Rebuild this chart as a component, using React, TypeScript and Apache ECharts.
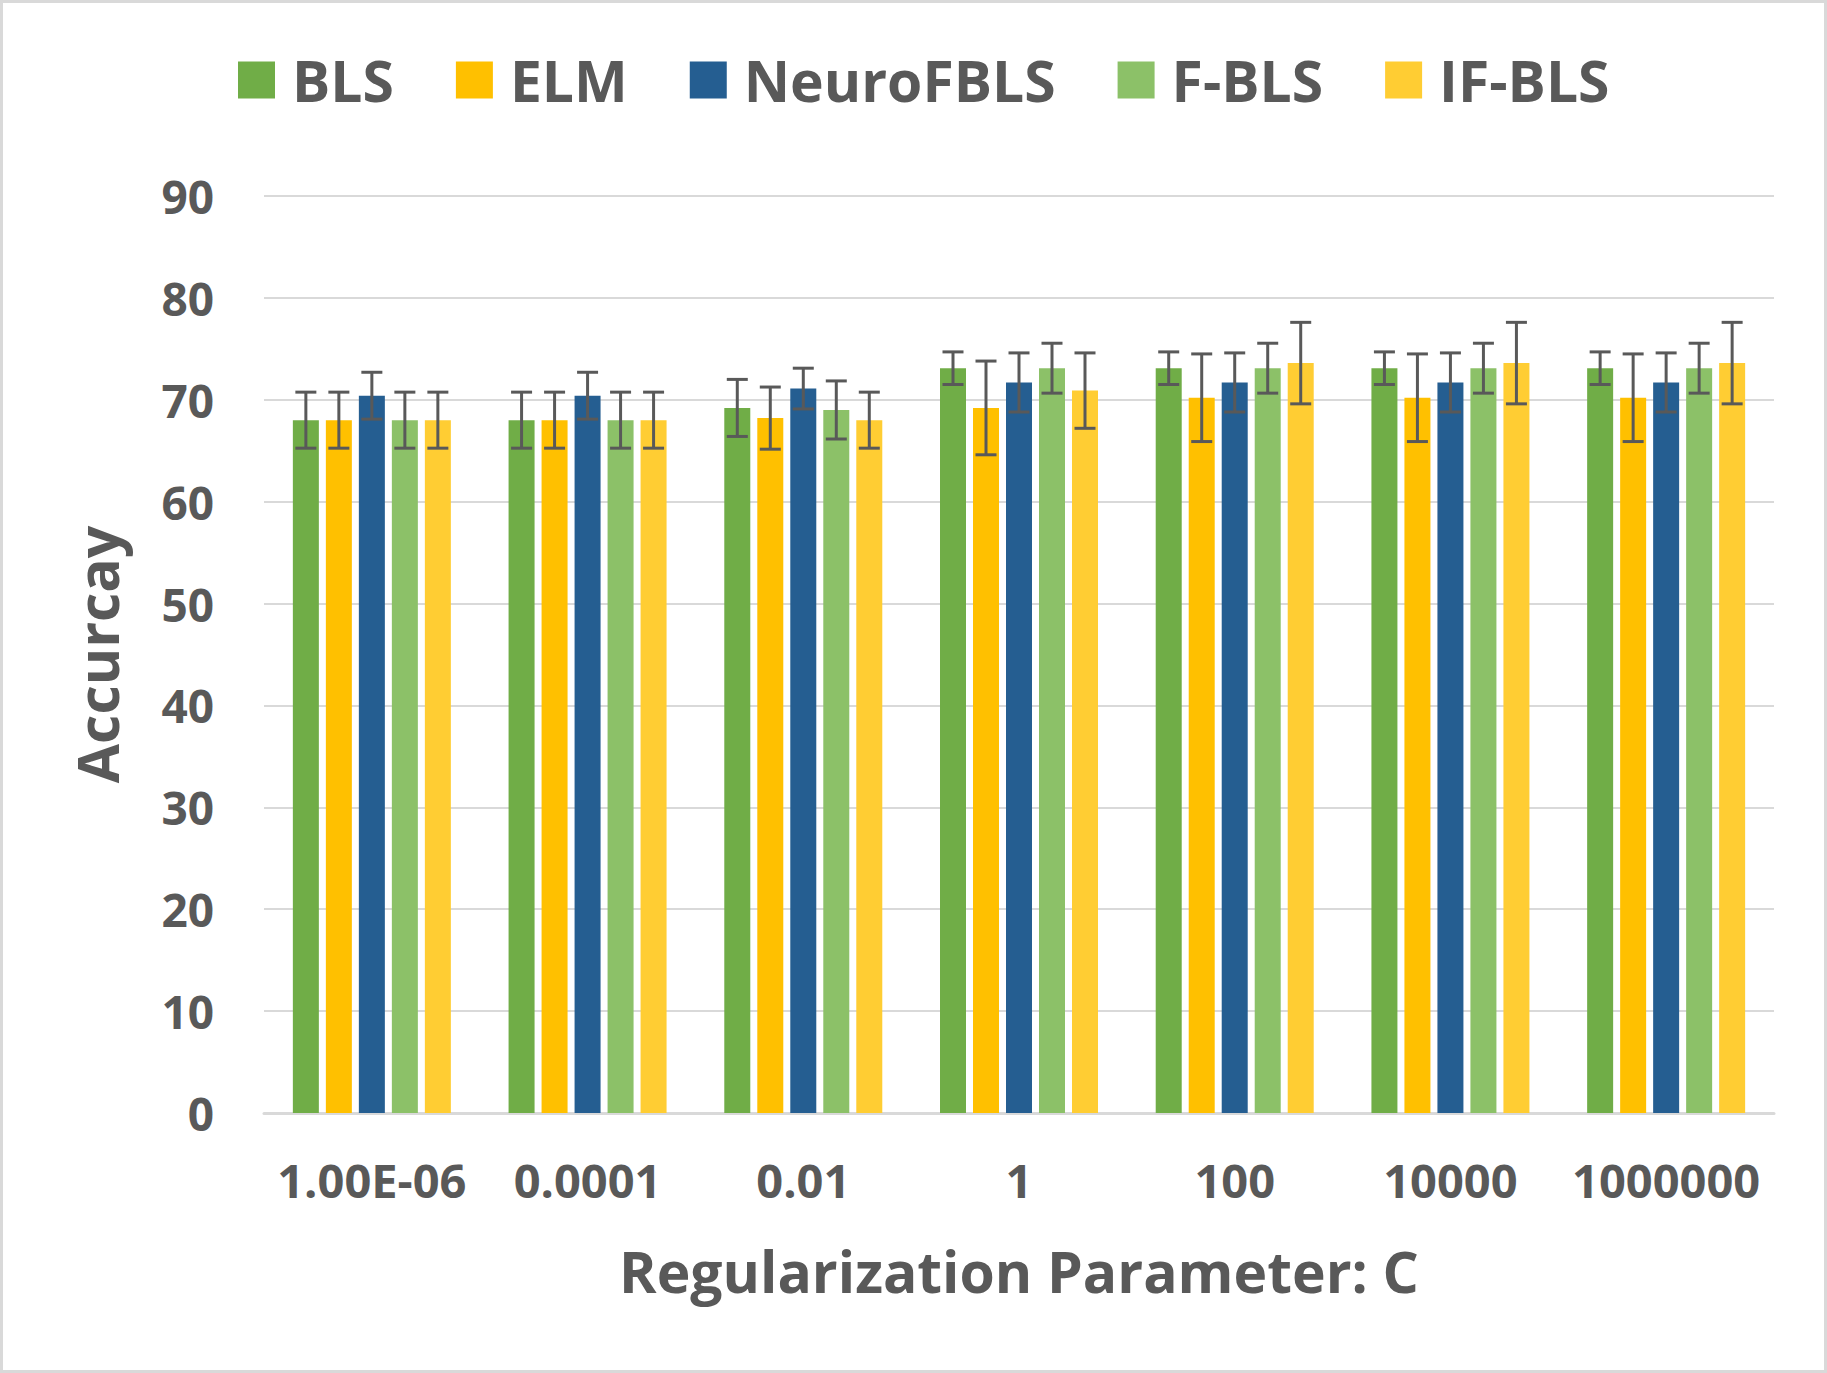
import React, { useEffect, useRef } from "react";
import * as echarts from "echarts";

const categories = ["1.00E-06", "0.0001", "0.01", "1", "100", "10000", "1000000"];
const seriesNames = ["BLS", "ELM", "NeuroFBLS", "F-BLS", "IF-BLS"];
const blsValues = [68.0, 68.0, 69.2, 73.1, 73.1, 73.1, 73.1];
const blsErrors = [2.75, 2.75, 2.8, 1.6, 1.6, 1.6, 1.6];
const elmValues = [68.0, 68.0, 68.2, 69.2, 70.2, 70.2, 70.2];
const elmErrors = [2.75, 2.75, 3.05, 4.6, 4.3, 4.3, 4.3];
const neuroValues = [70.4, 70.4, 71.1, 71.7, 71.7, 71.7, 71.7];
const neuroErrors = [2.3, 2.3, 2.0, 2.9, 2.9, 2.9, 2.9];
const fblsValues = [68.0, 68.0, 69.0, 73.1, 73.1, 73.1, 73.1];
const fblsErrors = [2.75, 2.75, 2.85, 2.45, 2.45, 2.45, 2.45];
const ifblsValues = [68.0, 68.0, 68.0, 70.9, 73.6, 73.6, 73.6];
const ifblsErrors = [2.75, 2.75, 2.75, 3.7, 4.0, 4.0, 4.0];
const yTicks = { min: 0, max: 90, interval: 10 };

const colors = ["#70AD47", "#FFC000", "#255E91", "#8CC168", "#FFCD33"];
const allValues = [blsValues, elmValues, neuroValues, fblsValues, ifblsValues];
const allErrors = [blsErrors, elmErrors, neuroErrors, fblsErrors, ifblsErrors];

const FONT = "'Open Sans', 'DejaVu Sans', sans-serif";
const TXT = "#595959";
const BAR_W = 26;
const BAR_GAP = 7;

export default function App() {
  const ref = useRef<HTMLDivElement>(null);
  useEffect(() => {
    if (!ref.current) return;
    const chart = echarts.init(ref.current, undefined, { renderer: "svg" });
    const barSeries = seriesNames.map((name, i) => ({
      type: "bar",
      name,
      data: allValues[i],
      barWidth: BAR_W,
      barGap: (BAR_GAP / BAR_W) * 100 + "%",
      itemStyle: { color: colors[i] },
      z: 2,
    }));
    const errSeries = seriesNames.map((name, i) => ({
      type: "custom",
      name,
      data: allValues[i].map((v, j) => [j, v, allErrors[i][j]]),
      z: 5,
      silent: true,
      encode: { x: 0, y: [1] },
      renderItem: (params: any, api: any) => {
        const x = api.value(0);
        const v = api.value(1);
        const e = api.value(2);
        const off = (i - 2) * (BAR_W + BAR_GAP);
        const top = api.coord([x, v + e]);
        const bot = api.coord([x, v - e]);
        const cx = top[0] + off;
        const hw = 10.5;
        const st = { stroke: "#595959", lineWidth: 3 };
        return {
          type: "group",
          children: [
            { type: "line", shape: { x1: cx, y1: top[1], x2: cx, y2: bot[1] }, style: st },
            { type: "line", shape: { x1: cx - hw, y1: top[1], x2: cx + hw, y2: top[1] }, style: st },
            { type: "line", shape: { x1: cx - hw, y1: bot[1], x2: cx + hw, y2: bot[1] }, style: st },
          ],
        };
      },
    }));
    chart.setOption({
      animation: false,
      backgroundColor: "#fff",
      graphic: [
        {
          type: "rect",
          shape: { x: 1.5, y: 1.5, width: 1824, height: 1370 },
          style: { fill: "none", stroke: "#D9D9D9", lineWidth: 3 },
          z: 100,
        },
      ],
      legend: {
        data: seriesNames,
        left: 233,
        top: 45,
        itemWidth: 37,
        itemHeight: 37,
        itemGap: 62,
        icon: "rect",
        textStyle: {
          fontFamily: FONT,
          fontWeight: "bold",
          fontSize: 57,
          color: TXT,
          lineHeight: 60,
          padding: [0, 0, 0, 12],
        },
      },
      grid: { left: 264, right: 53, top: 196, bottom: 260, containLabel: false },
      xAxis: {
        type: "category",
        data: categories,
        name: "Regularization Parameter: C",
        nameLocation: "middle",
        nameGap: 129,
        nameTextStyle: { fontFamily: FONT, fontWeight: "bold", fontSize: 57, color: TXT },
        axisLine: { lineStyle: { color: "#D9D9D9", width: 3 } },
        axisTick: { show: false },
        axisLabel: {
          fontFamily: FONT,
          fontWeight: "bold",
          fontSize: 47,
          color: TXT,
          margin: 43,
          interval: 0,
        },
      },
      yAxis: {
        type: "value",
        min: yTicks.min,
        max: yTicks.max,
        interval: yTicks.interval,
        name: "Accurcay",
        nameLocation: "middle",
        nameGap: 139,
        nameTextStyle: { fontFamily: FONT, fontWeight: "bold", fontSize: 57, color: TXT },
        axisLine: { show: false },
        axisTick: { show: false },
        splitLine: { lineStyle: { color: "#D9D9D9", width: 2 } },
        axisLabel: {
          fontFamily: FONT,
          fontWeight: "bold",
          fontSize: 46,
          color: TXT,
          margin: 50,
        },
      },
      series: [...barSeries, ...errSeries],
    });
    return () => chart.dispose();
  }, []);
  return (
    <div
      ref={ref}
      style={{ position: "absolute", left: 0, top: 0, width: 1827, height: 1373 }}
    />
  );
}
